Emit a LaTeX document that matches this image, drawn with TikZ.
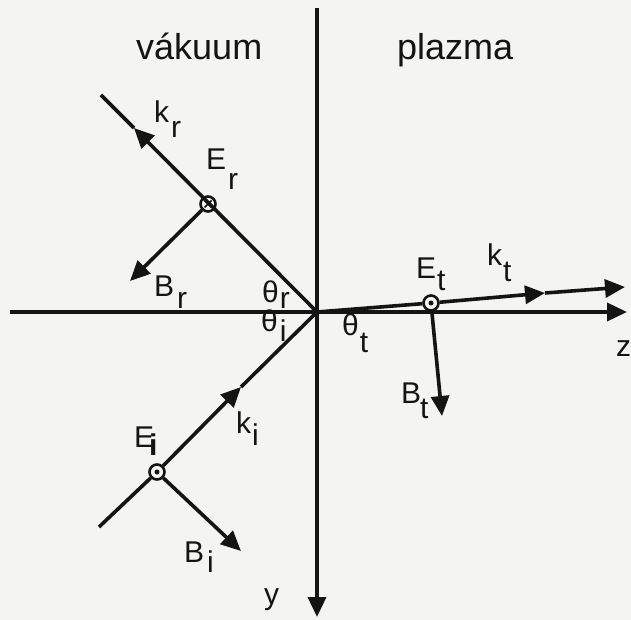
\documentclass[tikz,border=0pt]{standalone}
\usepackage{fontspec}
\setmainfont{Liberation Sans}
\usetikzlibrary{arrows.meta}
\definecolor{bg}{RGB}{244,244,242}
\definecolor{ink}{RGB}{20,20,20}
\newcommand\sbx[2]{\raisebox{-#1}{#2}}
\begin{document}
\begin{tikzpicture}[x=1pt,y=-1pt,
  ln/.style={draw=ink, line width=3.6pt},
  arr/.style={ln,-{Triangle[length=20pt,width=18pt]}},
  lbl/.style={font=\fontsize{30}{32}\selectfont, inner sep=0pt, anchor=base west, text=ink},
  ttl/.style={font=\fontsize{36}{40}\selectfont, inner sep=0pt, anchor=base west, text=ink},
  ecirc/.style={circle, draw=ink, line width=2.6pt, minimum size=15pt, inner sep=0pt, fill=bg}]
\fill[bg] (0,0) rectangle (631,620);
\useasboundingbox (0,0) rectangle (631,620);
% axes
\coordinate (O) at (317,312);
\coordinate (zL) at (10,312);
\coordinate (zR) at (627,312);
\coordinate (yT) at (317,8);
\coordinate (yB) at (317,617);
\draw[arr] (zL) -- (zR);
\draw[arr] (yT) -- (yB);
% reflected ray
\coordinate (rEnd) at (101,95);
\coordinate (rArr) at (134,128);
\node[ecirc] (Er) at (208,204) {};
\draw[arr] (O) -- (rArr);
\draw[ln] (rArr) -- (rEnd);
\coordinate (BrTip) at (130,281);
\draw[arr] (Er) -- (BrTip);
\draw[ink, line width=1.6pt] (Er.center) ++(-3.5,-3.5) -- ++(7,7) (Er.center) ++(-3.5,3.5) -- ++(7,-7);
% incident ray
\coordinate (iStart) at (99,527);
\node[ecirc] (Ei) at (157,472) {};
\coordinate (iArr) at (241,387);
\draw[ln] (iStart) -- (Ei);
\draw[arr] (Ei) -- (iArr);
\draw[ln] (iArr) -- (O);
\coordinate (BiTip) at (241,551);
\draw[arr] (Ei) -- (BiTip);
\fill[ink] (Ei.center) circle (2.5pt);
% transmitted ray
\node[ecirc] (Et) at (431,303) {};
\coordinate (tArr) at (545,293);
\coordinate (tEnd) at (625,287);
\draw[ln] (O) -- (Et);
\draw[arr] (Et) -- (tArr);
\draw[arr] (tArr) -- (tEnd);
\coordinate (BtTip) at (442,416);
\draw[arr] (Et) -- (BtTip);
\fill[ink] (Et.center) circle (2.5pt);
% titles
\node[ttl] (vak) at (136,60) {vákuum};
\node[ttl] (plz) at (397,60) {plazma};
% labels
\node[lbl] (lkr) at (154,123) {k\kern2pt\sbx{15pt}{r}};
\node[lbl] (lEr) at (206,170) {E\kern2pt\sbx{20pt}{r}};
\node[lbl] (lBr) at (154,296) {B\kern3pt\sbx{12pt}{r}};
\node[lbl] (ltr) at (262,302) {θ\kern1pt\sbx{6pt}{r}};
\node[lbl] (lti) at (261,331) {θ\kern2pt\sbx{10pt}{i}};
\node[lbl] (ltt) at (342,335) {θ\kern1pt\sbx{17pt}{t}};
\node[lbl] (lEt) at (416,278) {E\kern1pt\sbx{12pt}{t}};
\node[lbl] (lkt) at (487,265) {k\kern1pt\sbx{17pt}{t}};
\node[lbl] (lBt) at (401,403) {B\kern-1pt\sbx{15pt}{t}};
\node[lbl] (lEi) at (134,447) {E\kern-5pt\sbx{8pt}{\textbf{i}}};
\node[lbl] (lki) at (236,433) {k\kern1pt\sbx{12pt}{i}};
\node[lbl] (lBi) at (184,562) {B\kern3pt\sbx{10pt}{i}};
\node[lbl] (ly) at (264,604) {y};
\node[lbl] (lz) at (616,356) {z};
\end{tikzpicture}
\end{document}
